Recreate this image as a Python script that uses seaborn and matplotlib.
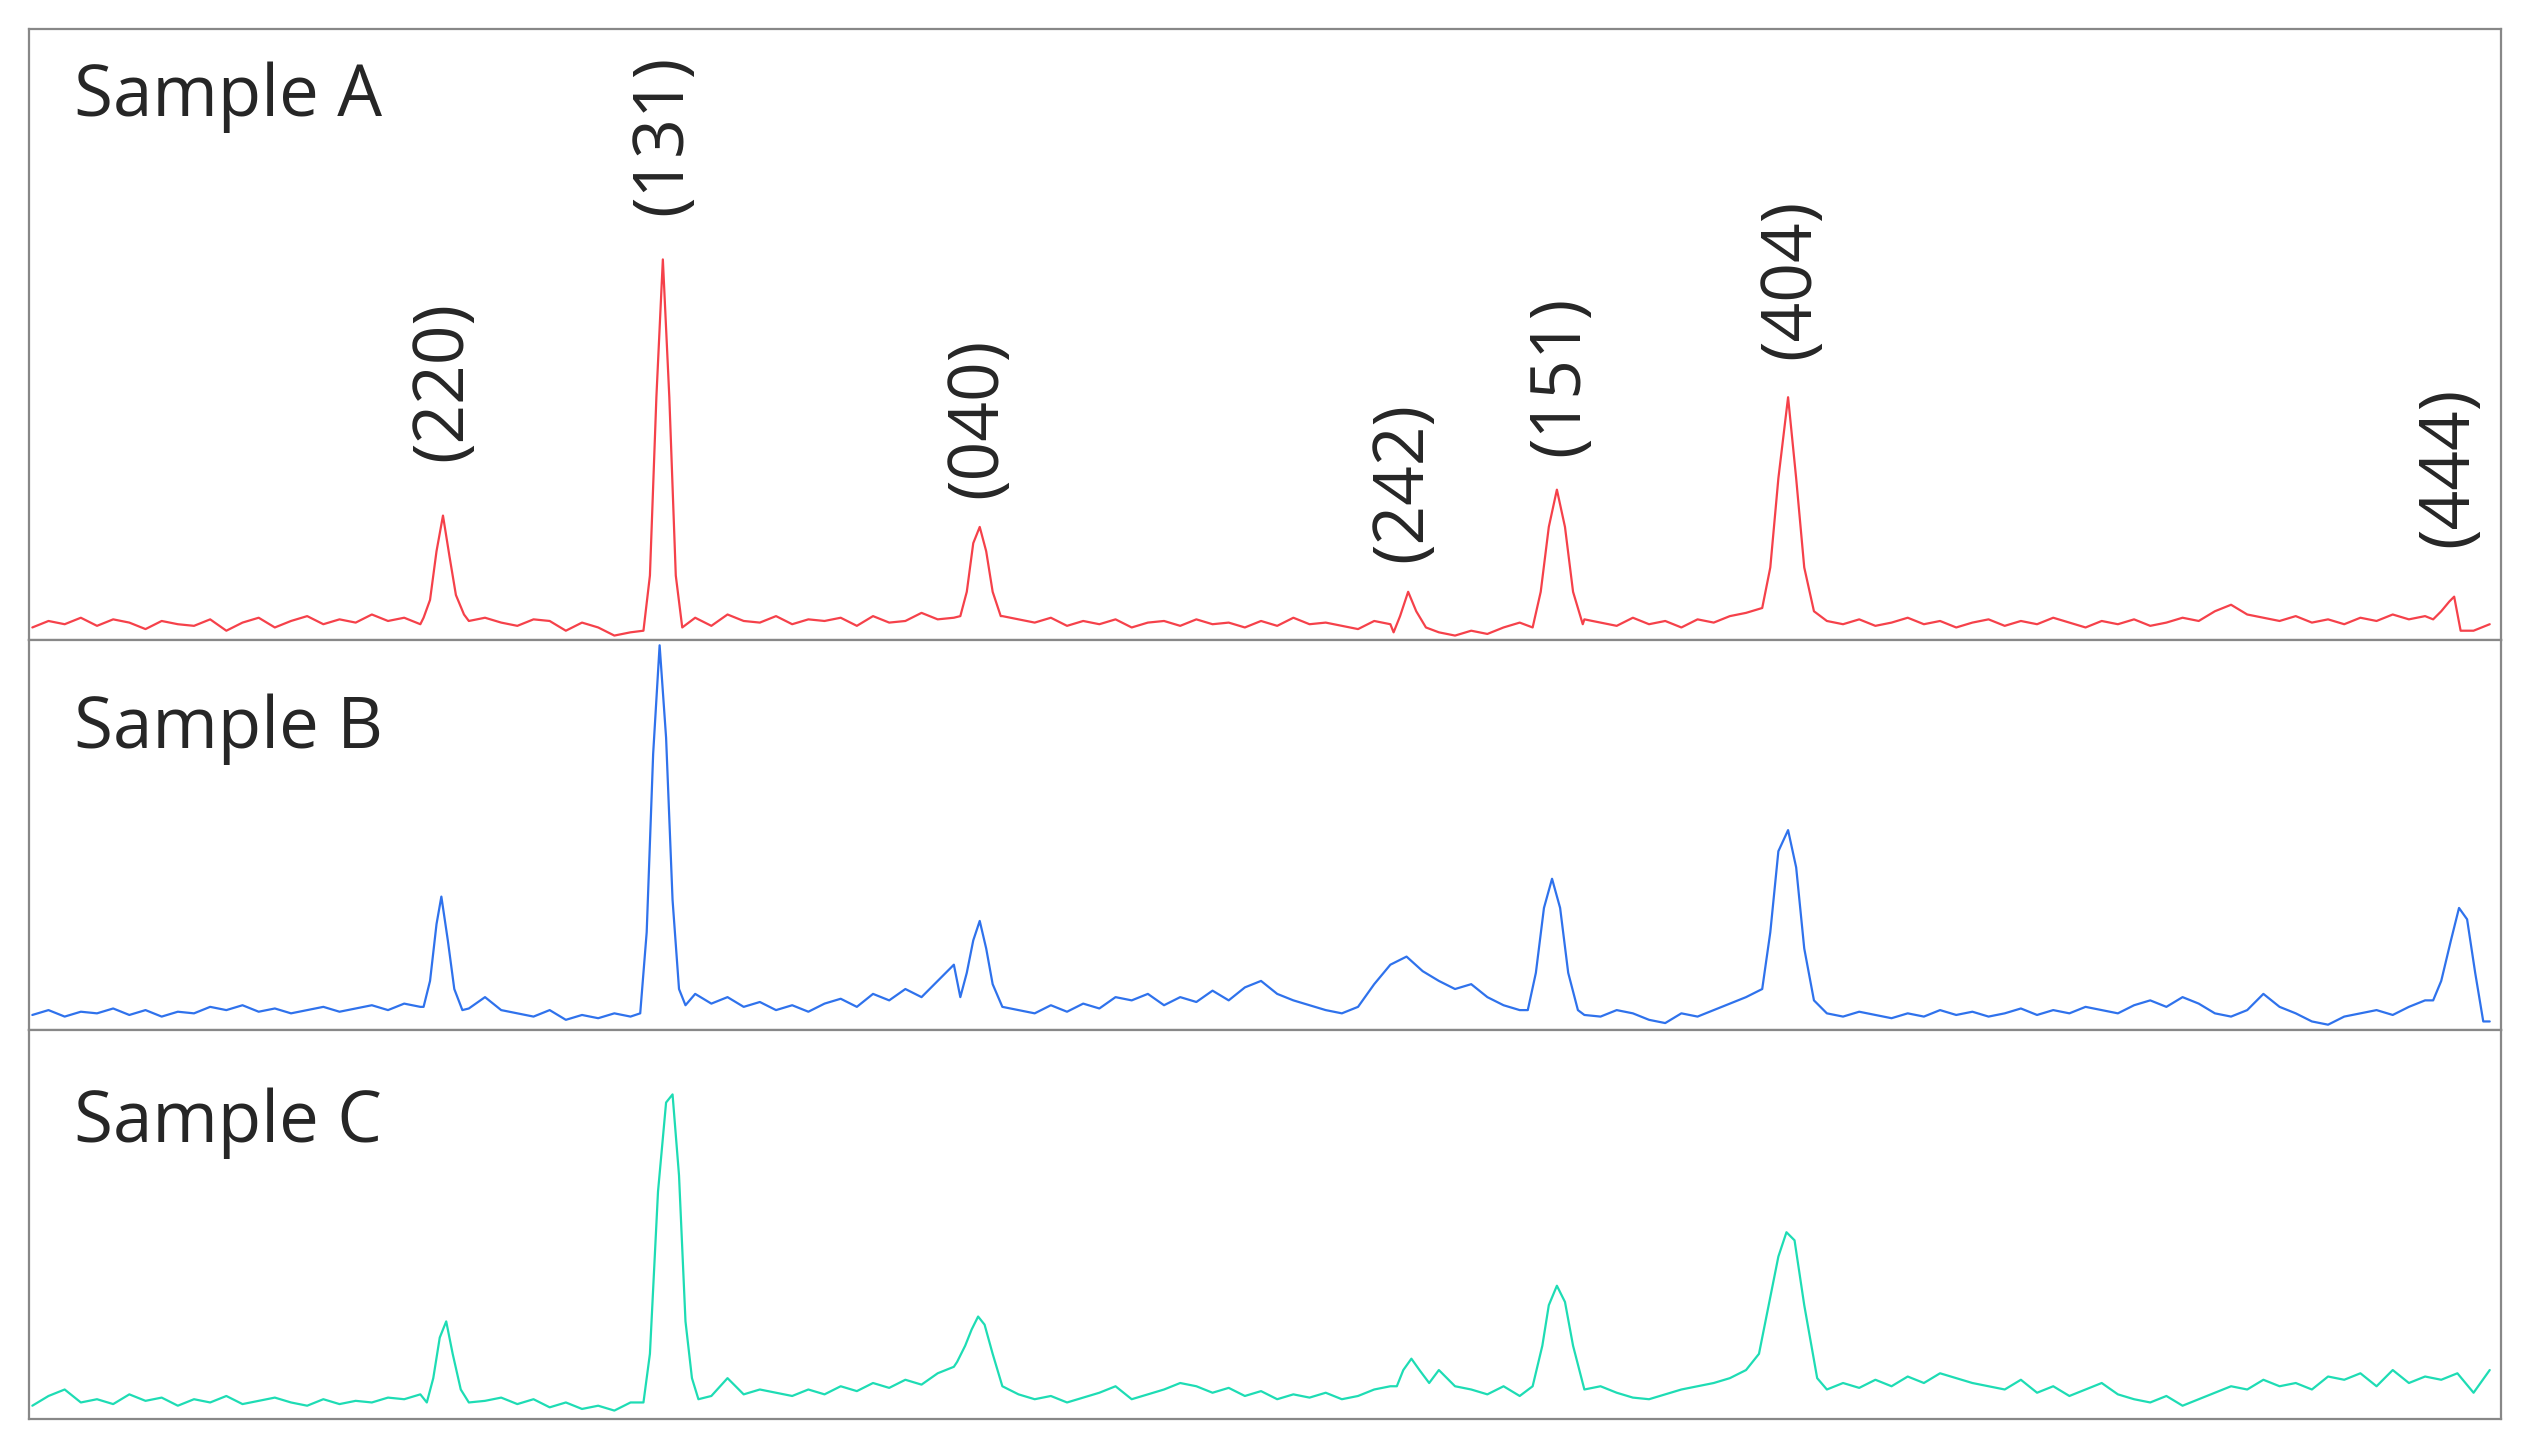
import numpy as np
import pandas as pd
import matplotlib
matplotlib.use("Agg")
import matplotlib.pyplot as plt
import seaborn as sns

sns.set_style("white")
plt.rcParams['font.family'] = ['Open Sans', 'DejaVu Sans']

# baseline samples on a grid x = 20, 30, ..., 1540
grid_x = list(range(20, 1541, 10))

base_a = [8,12,10,14,9,13,11,7,12,10, 9,13,6,11,14,8,12,15,10,13,
          11,16,12,14,10,15,13,12,14,11, 9,13,12,6,11,8,3,5,4,8,
          10,14,9,16,12,11,15,10,13,12, 14,9,15,11,12,17,13,14,10,12,
          15,13,11,14,9,12,10,13,8,11, 12,9,13,10,11,8,12,9,14,10,
          11,9,7,12,10,14,12,5,3,6, 4,8,11,9,12,10,13,11,9,14,
          10,12,8,13,11,15,17,18,20,16, 14,12,10,13,9,11,14,10,12,8,
          11,13,9,12,10,14,11,8,12,10, 13,9,11,14,12,18,22,16,14,12,
          15,11,13,10,14,12,16,13,15,14, 18,6,10]
base_b = [9,12,8,11,10,13,9,12,8,11, 10,14,12,15,11,13,10,12,14,11,
          13,15,12,16,14,17,15,13,20,12, 10,8,12,6,9,7,10,8,15,20,
          18,22,16,20,14,17,12,15,11,16, 19,14,22,18,25,20,30,40,30,18,
          14,12,10,15,11,16,13,20,18,22, 15,20,17,24,18,26,30,22,18,15,
          12,10,14,28,40,45,36,30,25,28, 20,15,12,10,12,10,9,8,12,10,
          6,4,10,8,12,16,20,30,18,14, 12,10,8,11,9,7,10,8,12,9,
          11,8,10,13,9,12,10,14,12,10, 15,18,14,20,16,10,8,12,22,14,
          10,5,3,8,10,12,9,14,18,30, 70,40,5]
base_c = [8,14,18,10,12,9,15,11,13,8, 12,10,14,9,11,13,10,8,12,9,
          11,10,13,12,15,12,10,14,11,13, 9,12,7,10,6,8,5,10,10,10,
          12,10,14,25,15,18,16,14,18,15, 20,17,22,19,24,21,28,32,35,40,
          25,15,12,14,10,13,16,20,12,15, 18,22,20,16,19,14,17,12,15,13,
          16,12,14,18,20,25,35,30,20,18, 15,20,14,18,25,20,20,20,16,13,
          12,15,18,20,22,25,30,40,40,40, 20,18,22,19,24,20,26,22,28,25,
          22,20,18,24,16,20,14,18,22,15, 12,10,14,8,12,16,20,18,24,20,
          22,18,26,24,28,20,30,22,26,24, 28,16,30]

# peak profiles (position, intensity)
peaks_a = [
    [(262,14),(266,25),(270,55),(274,77),(278,52),(282,28),(287,16)],
    [(398,6),(402,40),(406,150),(410,235),(414,150),(418,40),(422,8)],
    [(594,15),(598,30),(602,60),(606,70),(610,55),(614,30),(619,15)],
    [(862,5),(866,15),(871,30),(876,18),(882,8)],
    [(948,8),(953,30),(958,70),(963,93),(968,70),(973,30),(979,10)],
    [(1090,20),(1095,45),(1100,100),(1106,150),(1111,100),(1116,45),(1122,18)],
    [(1505,13),(1510,18),(1515,24),(1518,27),(1522,6)],
]
peaks_b = [
    [(262,14),(266,30),(270,65),(273,82),(277,55),(281,25),(286,12)],
    [(396,10),(400,60),(404,170),(408,237),(412,180),(416,80),(420,25),(424,15)],
    [(594,20),(598,35),(602,55),(606,67),(610,50),(614,28),(620,14)],
    [(945,12),(950,35),(955,75),(960,93),(965,75),(970,35),(976,12)],
    [(1090,25),(1095,60),(1100,110),(1106,123),(1111,100),(1116,50),(1122,18)],
    [(1505,18),(1510,30),(1516,55),(1521,75),(1526,68),(1531,35),(1536,5)],
]
peaks_c = [
    [(264,10),(268,25),(272,50),(276,60),(280,40),(285,18),(290,10)],
    [(398,10),(402,40),(407,140),(412,195),(416,200),(420,150),(424,60),(428,25),(432,12)],
    [(592,35),(597,45),(601,55),(605,63),(609,58),(614,40),(620,20)],
    [(864,20),(868,30),(873,37),(878,30),(884,22)],
    [(948,20),(954,45),(958,70),(963,82),(968,72),(973,45),(980,18)],
    [(1088,40),(1094,70),(1100,100),(1105,115),(1110,110),(1116,70),(1124,25)],
]

hkl_labels = ['(220)', '(131)', '(040)', '(242)', '(151)', '(404)', '(444)']
hkl_x = [274, 410, 605, 868, 965, 1108, 1515]
hkl_y = [160, 312, 137, 98, 163, 223, 107]


def build(base, peaks):
    pts = []
    for x, y in zip(grid_x, base):
        if not any(p[0][0] <= x <= p[-1][0] for p in peaks):
            pts.append((x, y))
    for p in peaks:
        pts.extend(p)
    pts.sort()
    return pd.DataFrame(pts, columns=['pos', 'intensity'])


samples = [('Sample A', base_a, peaks_a, '#f5414a', 377),
           ('Sample B', base_b, peaks_b, '#2f72ec', 240),
           ('Sample C', base_c, peaks_c, '#1edcb4', 240)]

H = 890.0
W = 1568.0
bounds = [(18, 395), (395, 635), (635, 875)]

fig = plt.figure(figsize=(25.35, 14.43), dpi=100)
for i, (name, base, peaks, color, ymax) in enumerate(samples):
    top, bot = bounds[i]
    ax = fig.add_axes([18 / W, 1 - bot / H, (1547 - 18) / W, (bot - top) / H])
    df = build(base, peaks)
    sns.lineplot(data=df, x='pos', y='intensity', ax=ax, color=color, linewidth=1.6)
    ax.set_xlim(18, 1547)
    ax.set_ylim(0, ymax)
    ax.set_xticks([])
    ax.set_yticks([])
    ax.set_xlabel('')
    ax.set_ylabel('')
    for s in ax.spines.values():
        s.set_color('#888888')
        s.set_linewidth(1.6)
    ytxt = (bot - {0: 60, 1: 450, 2: 693}[i]) / (bot - top)
    ax.text(0.018, ytxt, name, transform=ax.transAxes, fontsize=51,
            ha='left', va='center')
    if i == 0:
        for lab, x, y in zip(hkl_labels, hkl_x, hkl_y):
            ax.text(x, y, lab, rotation=90, fontsize=50, ha='center', va='center')

fig.savefig('out.png', dpi=100, facecolor='white')
